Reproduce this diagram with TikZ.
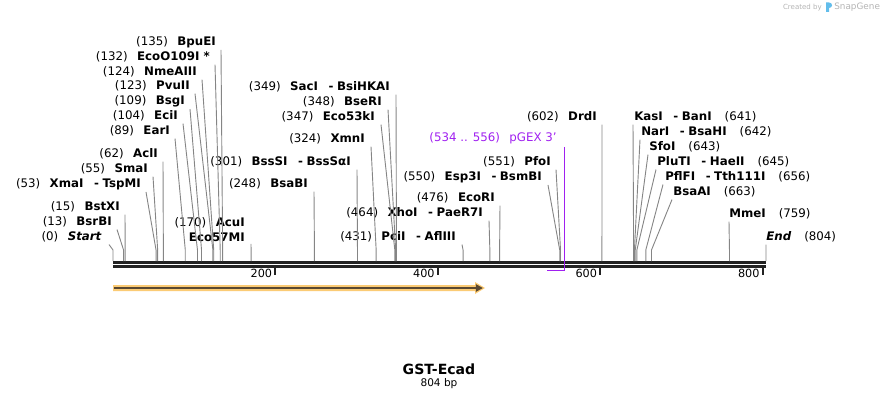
\documentclass[tikz,border=0pt]{standalone}
\usepackage{fontspec}
\setmainfont{DejaVu Sans}
\usetikzlibrary{arrows.meta}
\definecolor{cutgray}{HTML}{858585}
\definecolor{barblack}{HTML}{222222}
\definecolor{primerpurple}{HTML}{A020F0}
\definecolor{featorange}{HTML}{FBCB75}
\definecolor{featdark}{HTML}{594832}
\definecolor{markgray}{HTML}{B4B4B4}
\definecolor{markblue}{HTML}{62BDEB}
\newcommand{\enzl}[2]{(#1)\hspace{0.8em}\textbf{#2}}
\newcommand{\enzr}[2]{\textbf{#2}\hspace{1.1em}(#1)}
\newcommand{\enzsep}{\hspace{0.9em}-\hspace{0.3em}}
\begin{document}
\begin{tikzpicture}[x=0.025cm, y=-0.025cm,
    lbl/.style = {inner sep=0pt, font=\fontsize{8.4}{10.6}\selectfont},
    cutline/.style = {draw=cutgray, line width=0.65pt},
    bar/.style = {draw=barblack, line width=1.5pt}]
    \useasboundingbox (0,0) rectangle (880,400);

    % cut sites on the sequence
    \foreach \p in {0,13,15,53,55,62,89,104,109,123,124,132,135,170,248,301,324,347,348,349,431,464,476,550,551,602,641,642,643,645,656,663,759,804} {
        \coordinate (c\p) at ({113+\p*0.81219},261);
        \coordinate (k\p) at ({113+\p*0.81219},250);
    }

    % sequence and ruler
    \draw[bar] (113,262.5) -- (766,262.5);
    \draw[bar] (113,266.5) -- (766,266.5);
    \foreach \t in {200,400,600,800} {
        \draw[barblack, line width=1.4pt] ({113+\t*0.81219},266) -- ++(0,9);
        \node[lbl, anchor=east, font=\fontsize{8}{10}\selectfont] (t\t) at ({110+\t*0.81219},273) {\t};
    }

    % feature
    \fill[featorange] (113,285) -- (475,285) -- (475,282) -- (485,288) -- (475,294) -- (475,291) -- (113,291) -- cycle;
    \draw[featdark, line width=1.3pt, -{Triangle[length=5pt,width=5pt]}] (114,288) -- (483,288);

    % primer
    \node[lbl, anchor=east, text=primerpurple] (pgex) at (557,138) {(534 .. 556)\hspace{0.8em}pGEX 3'};
    \coordinate (p534) at (546.5,270.5);
    \coordinate (p556) at (564.6,270.5);
    \draw[primerpurple, line width=1pt] ([yshift=-2]pgex.south -| p556) -- (p556) -- (p534);

    % enzymes, left of their cut
    \node[lbl, anchor=east] (bpuei) at (216,42) {\enzl{135}{BpuEI}};
    \node[lbl, anchor=east] (ecoo) at (210,57) {\enzl{132}{EcoO109I *}};
    \node[lbl, anchor=east] (nme) at (197,72) {\enzl{124}{NmeAIII}};
    \node[lbl, anchor=east] (pvu) at (190,86) {\enzl{123}{PvuII}};
    \node[lbl, anchor=east] (bsg) at (185,101) {\enzl{109}{BsgI}};
    \node[lbl, anchor=east] (eci) at (178,116) {\enzl{104}{EciI}};
    \node[lbl, anchor=east] (ear) at (170,131) {\enzl{89}{EarI}};
    \node[lbl, anchor=east] (acl) at (158,154) {\enzl{62}{AclI}};
    \node[lbl, anchor=east] (sma) at (148,169) {\enzl{55}{SmaI}};
    \node[lbl, anchor=east] (xma) at (141,184) {\enzl{53}{XmaI\enzsep TspMI}};
    \node[lbl, anchor=east] (bstx) at (120,207) {\enzl{15}{BstXI}};
    \node[lbl, anchor=east] (bsrb) at (112,222) {\enzl{13}{BsrBI}};
    \node[lbl, anchor=east] (start) at (102,237) {\enzl{0}{\textit{Start}}};
    \node[lbl, anchor=east, align=right] (acu) at (245,229.5) {\enzl{170}{AcuI}\\\textbf{Eco57MI}};
    \node[lbl, anchor=east] (bsab) at (308,184) {\enzl{248}{BsaBI}};
    \node[lbl, anchor=east] (bsss) at (351,162) {\enzl{301}{BssSI\enzsep BssSαI}};
    \node[lbl, anchor=east] (saci) at (390,87) {\enzl{349}{SacI\enzsep BsiHKAI}};
    \node[lbl, anchor=east] (bser) at (382,102) {\enzl{348}{BseRI}};
    \node[lbl, anchor=east] (eco53) at (375,117) {\enzl{347}{Eco53kI}};
    \node[lbl, anchor=east] (xmn) at (365,139) {\enzl{324}{XmnI}};
    \node[lbl, anchor=east] (xho) at (483,213) {\enzl{464}{XhoI\enzsep PaeR7I}};
    \node[lbl, anchor=east] (pci) at (456,237) {\enzl{431}{PciI\enzsep AflIII}};
    \node[lbl, anchor=east] (ecor) at (495,198) {\enzl{476}{EcoRI}};
    \node[lbl, anchor=east] (esp) at (542,177) {\enzl{550}{Esp3I\enzsep BsmBI}};
    \node[lbl, anchor=east] (pfo) at (551,162) {\enzl{551}{PfoI}};
    \node[lbl, anchor=east] (drd) at (597,117) {\enzl{602}{DrdI}};

    % enzymes, right of their cut
    \node[lbl, anchor=west] (kas) at (634,117) {\enzr{641}{KasI\enzsep BanI}};
    \node[lbl, anchor=west] (nar) at (641,132) {\enzr{642}{NarI\enzsep BsaHI}};
    \node[lbl, anchor=west] (sfo) at (649,147) {\enzr{643}{SfoI}};
    \node[lbl, anchor=west] (plu) at (657,162) {\enzr{645}{PluTI\enzsep HaeII}};
    \node[lbl, anchor=west] (pfl) at (665,177) {\enzr{656}{PflFI\enzsep Tth111I}};
    \node[lbl, anchor=west] (bsaa) at (673,192) {\enzr{663}{BsaAI}};
    \node[lbl, anchor=west] (mme) at (729,214) {\enzr{759}{MmeI}};
    \node[lbl, anchor=west] (endl) at (766,237) {\enzr{804}{\textit{End}}};

    \draw[cutline] ([shift={(5,2)}]bpuei.south east) -- (k135) -- (c135);
    \draw[cutline] ([shift={(5,2)}]ecoo.south east) -- (k132) -- (c132);
    \draw[cutline] ([shift={(5,2)}]nme.south east) -- (k124) -- (c124);
    \draw[cutline] ([shift={(5,2)}]pvu.south east) -- (k123) -- (c123);
    \draw[cutline] ([shift={(5,2)}]bsg.south east) -- (k109) -- (c109);
    \draw[cutline] ([shift={(5,2)}]eci.south east) -- (k104) -- (c104);
    \draw[cutline] ([shift={(5,2)}]ear.south east) -- (k89) -- (c89);
    \draw[cutline] ([shift={(5,2)}]acl.south east) -- (k62) -- (c62);
    \draw[cutline] ([shift={(5,2)}]sma.south east) -- (k55) -- (c55);
    \draw[cutline] ([shift={(5,2)}]xma.south east) -- (k53) -- (c53);
    \draw[cutline] ([shift={(5,2)}]bstx.south east) -- (k15) -- (c15);
    \draw[cutline] ([shift={(5,2)}]bsrb.south east) -- (k13) -- (c13);
    \draw[cutline] ([shift={(7,2)}]start.south east) -- (k0) -- (c0);
    \draw[cutline] ([shift={(6,2)}]acu.south east) -- (k170) -- (c170);
    \draw[cutline] ([shift={(6,2)}]bsab.south east) -- (k248) -- (c248);
    \draw[cutline] ([shift={(6,2)}]bsss.south east) -- (k301) -- (c301);
    \draw[cutline] ([shift={(6,2)}]saci.south east) -- (k349) -- (c349);
    \draw[cutline] ([shift={(6,2)}]bser.south east) -- (k348) -- (c348);
    \draw[cutline] ([shift={(6,2)}]eco53.south east) -- (k347) -- (c347);
    \draw[cutline] ([shift={(6,2)}]xmn.south east) -- (k324) -- (c324);
    \draw[cutline] ([shift={(6,2)}]xho.south east) -- (k464) -- (c464);
    \draw[cutline] ([shift={(6,2)}]pci.south east) -- (k431) -- (c431);
    \draw[cutline] ([shift={(5,2)}]ecor.south east) -- (k476) -- (c476);
    \draw[cutline] ([shift={(6,2)}]esp.south east) -- (k550) -- (c550);
    \draw[cutline] ([shift={(5,2)}]pfo.south east) -- (k551) -- (c551);
    \draw[cutline] ([shift={(5,2)}]drd.south east) -- (k602) -- (c602);
    \draw[cutline] ([shift={(-1,2)}]kas.south west) -- (k641) -- (c641);
    \draw[cutline] ([shift={(-1,2)}]nar.south west) -- (k642) -- (c642);
    \draw[cutline] ([shift={(-1,2)}]sfo.south west) -- (k643) -- (c643);
    \draw[cutline] ([shift={(-1,2)}]plu.south west) -- (k645) -- (c645);
    \draw[cutline] ([shift={(-2,2)}]pfl.south west) -- (k656) -- (c656);
    \draw[cutline] ([shift={(-1,2)}]bsaa.south west) -- (k663) -- (c663);
    \draw[cutline] ([shift={(0,2)}]mme.south west) -- (k759) -- (c759);
    \draw[cutline] ([shift={(0,2)}]endl.south west) -- (k804) -- (c804);

    % title
    \node[inner sep=0pt, font=\bfseries\fontsize{10}{12}\selectfont] (title) at (439,369) {GST-Ecad};
    \node[inner sep=0pt, font=\fontsize{7.5}{9}\selectfont] (size) at (439,384) {804 bp};

    % watermark
    \node[inner sep=0pt, anchor=east, text=markgray, font=\fontsize{5}{6}\selectfont] (wm1) at (822,7.5) {Created by};
    \fill[markblue] (826,2.5) rectangle (829,12) (829,2.5) .. controls (833,2.5) and (833,8) .. (829,8) -- cycle;
    \node[inner sep=0pt, anchor=west, text=markgray, font=\fontsize{6.3}{7}\selectfont] (wm2) at (834,7.5) {SnapGene};
\end{tikzpicture}
\end{document}
